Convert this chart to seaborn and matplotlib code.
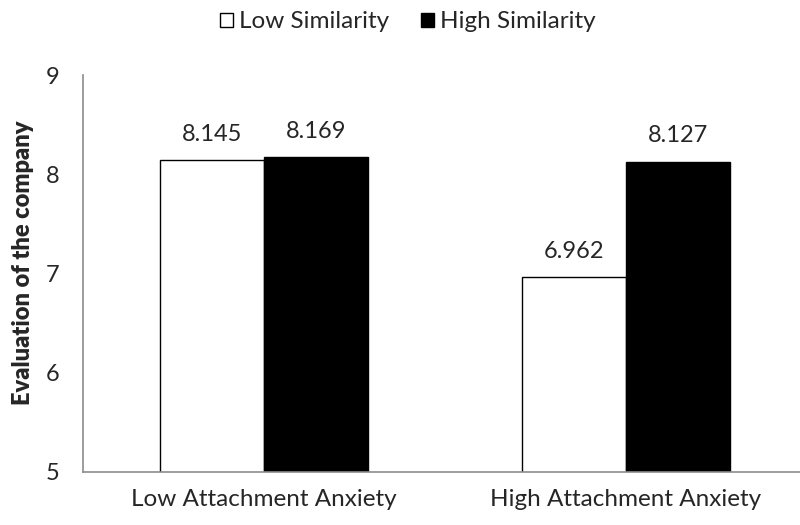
import matplotlib
matplotlib.use("Agg")
import matplotlib.pyplot as plt
import seaborn as sns
import pandas as pd
from matplotlib.patches import Patch

categories = ["Low Attachment Anxiety", "High Attachment Anxiety"]
series_names = ["Low Similarity", "High Similarity"]
low_similarity = [8.145, 6.962]
high_similarity = [8.169, 8.127]
y_ticks = [5, 6, 7, 8, 9]

rows = []
for c, v in zip(categories, low_similarity):
    rows.append({"cat": c, "series": series_names[0], "value": v})
for c, v in zip(categories, high_similarity):
    rows.append({"cat": c, "series": series_names[1], "value": v})
df = pd.DataFrame(rows)

sns.set_style("white")
plt.rcParams["font.family"] = ["Lato", "DejaVu Sans"]

FS = 17
fig = plt.figure(figsize=(8, 5.25), dpi=100)
ax = fig.add_axes([83/800, 1 - 472/525, 724/800, (472-75)/525])

palette = {"Low Similarity": "white", "High Similarity": "black"}
sns.barplot(data=df, x="cat", y="value", hue="series", palette=palette,
            order=categories, hue_order=series_names, width=0.575,
            edgecolor="black", linewidth=1.0, ax=ax, legend=False)

ax.set_ylim(5, 9)
ax.set_yticks(y_ticks)
ax.set_yticklabels([str(t) for t in y_ticks], fontsize=FS)
ax.set_xlim(-0.5, 1.5)
ax.set_xlabel("")
ax.set_ylabel("Evaluation of the company", fontsize=17, fontweight="heavy")
ax.yaxis.set_label_coords(-49/724, (472-263)/397)
ax.tick_params(axis="x", length=0, labelsize=17.5, pad=12)
ax.tick_params(axis="y", length=6, color="#8c8c8c", width=1.2, direction="out", pad=11)
ax.set_xticks([-0.5, 0.5, 1.5], minor=True)
ax.tick_params(axis="x", which="minor", length=6, color="#8c8c8c", width=1.2, direction="out")

for s in ["top", "right"]:
    ax.spines[s].set_visible(False)
for s in ["left", "bottom"]:
    ax.spines[s].set_color("#8c8c8c")
    ax.spines[s].set_linewidth(1.2)

for cont in ax.containers:
    ax.bar_label(cont, labels=[f"{v:.3f}" for v in cont.datavalues], padding=11, fontsize=FS)

handles = [Patch(facecolor="white", edgecolor="black", label=series_names[0]),
           Patch(facecolor="black", edgecolor="black", label=series_names[1])]
fig.legend(handles=handles, loc="center", bbox_to_anchor=(0.51, 1 - 22/525), ncol=2,
           frameon=False, fontsize=17.5, handlelength=0.55, handleheight=0.55,
           handletextpad=0.25, columnspacing=1.3)

fig.savefig("out.png", dpi=100)
